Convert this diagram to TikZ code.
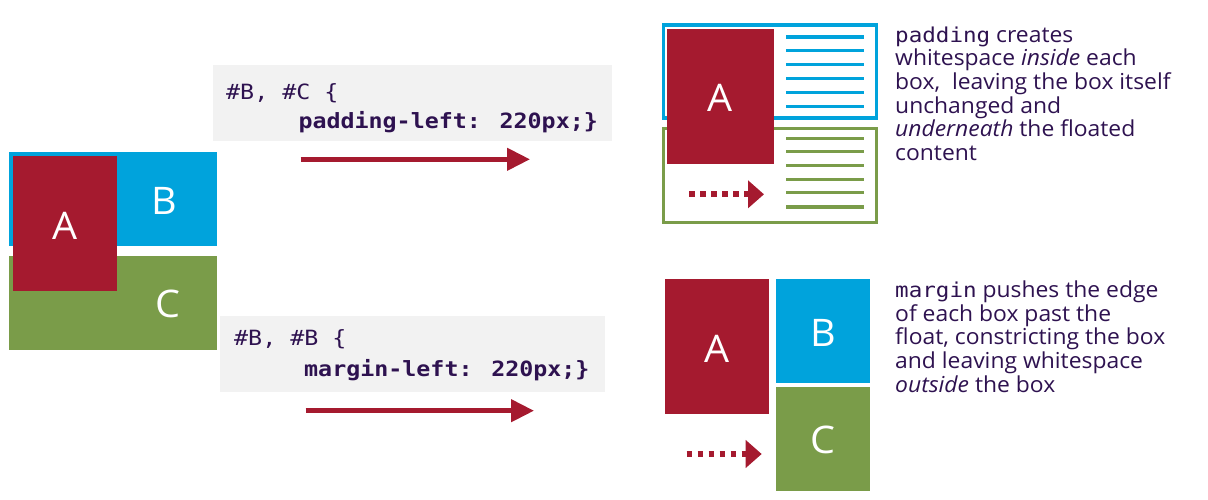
\documentclass[tikz,border=0pt]{standalone}
\usepackage{fontspec}
\setmainfont{Open Sans}[FakeStretch=1.04]
\newfontfamily\codefont{DejaVu Sans Mono}[FakeStretch=1.11]
\newfontfamily\pcodefont{DejaVu Sans Mono}[FakeStretch=1.1]
\usetikzlibrary{arrows.meta}
\definecolor{cred}{HTML}{A51A2F}
\definecolor{cblue}{HTML}{00A3DC}
\definecolor{cgreen}{HTML}{7A9C49}
\definecolor{cgrey}{HTML}{F2F2F2}
\definecolor{ctext}{HTML}{2E1250}
\newcommand\pmono[1]{{\pcodefont\fontsize{20.5}{23.5}\selectfont #1}}
\tikzset{
  fbox/.style={fill=#1, draw=none, inner sep=0, outer sep=0, anchor=north west},
  obox/.style={draw=#1, line width=3.4pt, fill=none, inner sep=0, outer sep=0, anchor=north west},
  letter/.style={text=white, font=\fontsize{38}{38}\selectfont, inner sep=0, anchor=base},
  code/.style={font=\codefont\fontsize{21}{28}\selectfont, text=ctext, inner sep=0, anchor=base west},
  bigarrow/.style={draw=cred, line width=4.5pt, -{Triangle[length=23pt,width=22pt]}},
  dotarrow/.style={draw=cred, line width=6pt, dash pattern=on 5.5pt off 5.5pt, -{Triangle[length=16pt,width=27pt]}},
  para/.style={text=ctext, font=\fontsize{22}{23.6}\selectfont, align=left, inner sep=0, anchor=north west},
  textline/.style={line width=3.3pt}
}
\begin{document}
\begin{tikzpicture}[x=1pt,y=-1pt]
\useasboundingbox (0,0) rectangle (1208,499);
% left original layout
\node[fbox=cblue, minimum width=208pt, minimum height=94pt] (B1) at (9,152) {};
\node[fbox=cgreen, minimum width=208pt, minimum height=94pt] (C1) at (9,256) {};
\node[fbox=cred, minimum width=104pt, minimum height=135pt] (A1) at (13,156) {};
\node[letter] (A1l) at (64.7,239) {A};
\node[letter] (B1l) at (164,214) {B};
\node[letter] (C1l) at (168,317.5) {C};
% code boxes
\node[fbox=cgrey, minimum width=399.3pt, minimum height=75.7pt] (G1) at (212.7,65) {};
\node[fbox=cgrey, minimum width=385pt, minimum height=75.7pt] (G2) at (220,316) {};
\node[code] (G1a) at (226,99) {\#B, \#C \{};
\node[code] (G1b) at (298.3,128.3) {\bfseries padding-left: 220px;\}};
\node[code] (G2a) at (234,345.7) {\#B, \#B \{};
\node[code] (G2b) at (304,376.7) {\bfseries margin-left: 220px;\}};
% big arrows
\coordinate (a1s) at (300.7,159.3);
\coordinate (a1e) at (530,159.3);
\coordinate (a2s) at (305.7,410.7);
\coordinate (a2e) at (534,410.7);
\draw[bigarrow] (a1s) -- (a1e);
\draw[bigarrow] (a2s) -- (a2e);
% padding result
\node[obox=cblue, minimum width=212.9pt, minimum height=93pt] (B2) at (663.4,25) {};
\node[obox=cgreen, minimum width=212.9pt, minimum height=93.9pt] (C2) at (663.4,128.4) {};
\foreach \y in {37,50.7,64.7,78.7,92.7,106.7}
  \draw[textline, cblue] (786,\y) -- (864,\y);
\foreach \y in {138.7,151.7,165.7,179.7,192.7,207}
  \draw[textline, cgreen] (786,\y) -- (864,\y);
\node[fbox=cred, minimum width=107.3pt, minimum height=135pt] (A2) at (666.7,29) {};
\node[letter] (A2l) at (720,111) {A};
\coordinate (d1s) at (689,194.3);
\coordinate (d1e) at (764,194.3);
\draw[dotarrow] (d1s) -- (d1e);
\node[para] (P1) at (895,26.6) {\pmono{padding} creates\\
whitespace \textit{inside} each\\
box,\ \ leaving the box itself\\
unchanged and\\
\textit{underneath} the floated\\
content};
% margin result
\node[fbox=cred, minimum width=104pt, minimum height=135pt] (A3) at (665,279) {};
\node[fbox=cblue, minimum width=94pt, minimum height=103.7pt] (B3) at (776,279) {};
\node[fbox=cgreen, minimum width=94pt, minimum height=103.7pt] (C3) at (776,387) {};
\node[letter] (A3l) at (716.7,362.3) {A};
\node[letter] (B3l) at (823.3,346) {B};
\node[letter] (C3l) at (823,453) {C};
\coordinate (d2s) at (686.7,454);
\coordinate (d2e) at (761.7,454);
\draw[dotarrow] (d2s) -- (d2e);
\node[para] (P2) at (895,280.7) {\pmono{margin} pushes the edge\\
of each box past the\\
float, constricting the box\\
and leaving whitespace\\
\textit{outside} the box};
\end{tikzpicture}
\end{document}
